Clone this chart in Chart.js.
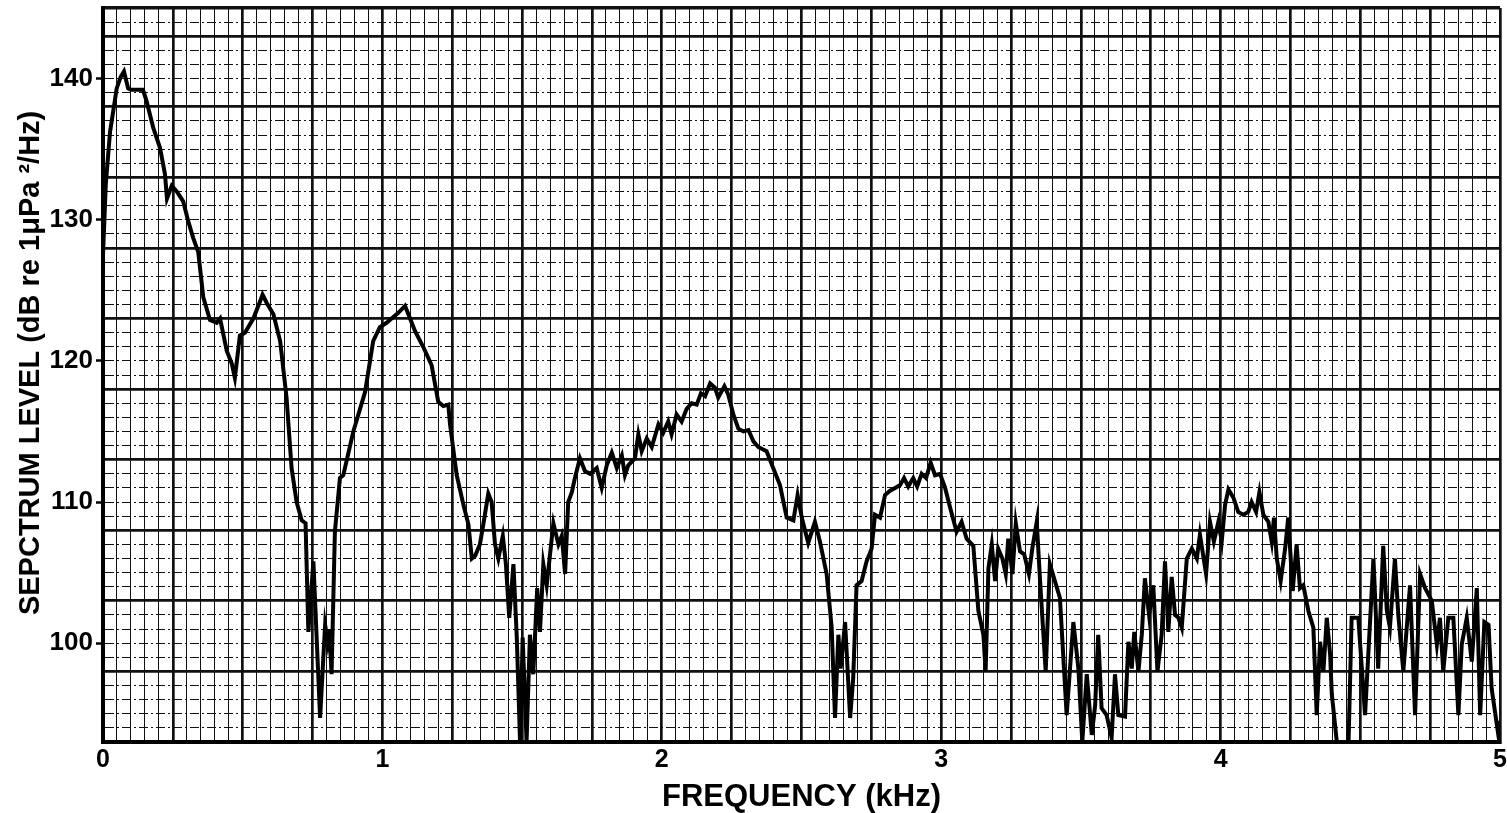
<!DOCTYPE html>
<html>
<head>
<meta charset="utf-8">
<script src="https://cdn.jsdelivr.net/npm/chart.js@4.4.1/dist/chart.umd.min.js"></script>
<style>
  html, body { margin: 0; padding: 0; background: #fff; }
</style>
</head>
<body>
<canvas id="spectrum" width="1507" height="813"></canvas>
<script>
// frequency (kHz) and spectrum level (dB re 1 uPa^2/Hz)
const freqKHz = [
  0.000, 0.010, 0.025, 0.049, 0.063, 0.075, 0.090, 0.100, 0.143, 0.156, 0.180, 0.204, 0.222, 0.229, 0.246, 0.264, 0.287, 0.305, 0.323, 0.341, 0.359,
  0.383, 0.407, 0.419, 0.443, 0.461, 0.472, 0.490, 0.508, 0.538, 0.562, 0.571, 0.586, 0.610, 0.634, 0.657, 0.675,
  0.693, 0.711, 0.725, 0.735, 0.753, 0.777, 0.795, 0.804, 0.810, 0.818, 0.830, 0.848, 0.860, 0.896, 0.938, 0.967, 0.991, 1.015, 1.033, 1.057, 1.081, 1.099, 1.117, 1.146, 1.176, 1.200, 1.218, 1.236, 1.242,
  1.266, 1.290, 1.308, 1.320, 1.332, 1.349, 1.361, 1.379, 1.391, 1.403, 1.415, 1.431, 1.442, 1.454, 1.469, 1.481, 1.493, 1.502, 1.516, 1.528, 1.540, 1.554, 1.564, 1.576, 1.588, 1.612, 1.630, 1.642, 1.654, 1.665, 1.678, 1.689, 1.707, 1.725, 1.743, 1.767, 1.785, 1.803, 1.821, 1.839, 1.857, 1.868,
  1.880, 1.904, 1.916, 1.928, 1.946, 1.964, 1.988, 2.005, 2.023, 2.035, 2.053, 2.071, 2.089, 2.107, 2.125, 2.140, 2.155, 2.173, 2.190, 2.202, 2.224, 2.238, 2.256, 2.274, 2.292, 2.310, 2.328, 2.345, 2.375, 2.399, 2.423, 2.447, 2.471, 2.486, 2.501,
  2.524, 2.548, 2.566, 2.590, 2.608, 2.620, 2.632, 2.640, 2.656, 2.674, 2.685, 2.697, 2.715, 2.733, 2.751, 2.763, 2.781, 2.799, 2.817, 2.835, 2.853, 2.867, 2.882, 2.900, 2.914, 2.930, 2.946, 2.962, 2.978, 2.996, 3.014, 3.032, 3.055, 3.073, 3.091, 3.115, 3.133, 3.151, 3.159,
  3.169, 3.181, 3.193, 3.204, 3.219, 3.231, 3.240, 3.255, 3.267, 3.282, 3.297, 3.314, 3.326, 3.342, 3.354, 3.374, 3.389, 3.407, 3.425, 3.449, 3.473, 3.491, 3.505, 3.521, 3.539, 3.551, 3.562, 3.574, 3.592, 3.610, 3.622, 3.634, 3.658, 3.670, 3.682, 3.691, 3.706, 3.718, 3.729, 3.744, 3.759,
  3.774, 3.789, 3.801, 3.813, 3.825, 3.837, 3.849, 3.861, 3.879, 3.897, 3.915, 3.926, 3.948, 3.962, 3.976, 3.992, 4.004, 4.016, 4.028, 4.046, 4.063, 4.081, 4.099, 4.111, 4.127, 4.139, 4.153, 4.171, 4.183, 4.191, 4.201, 4.215, 4.231, 4.242, 4.258, 4.272, 4.284, 4.296, 4.314, 4.332, 4.344, 4.356, 4.368, 4.380, 4.392,
  4.398, 4.416, 4.458, 4.469, 4.493, 4.517, 4.547, 4.564, 4.582, 4.595, 4.606, 4.624, 4.636, 4.654, 4.678, 4.696, 4.714, 4.732, 4.756, 4.774, 4.785, 4.797, 4.815, 4.833, 4.851, 4.863, 4.881, 4.899, 4.917, 4.929, 4.944, 4.959, 4.970, 4.994, 5.000
];
const levelDB = [
  127.5, 132.5, 136.2, 139.3, 140.1, 140.5, 139.3, 139.2, 139.2, 138.4, 136.5, 135.1, 133.2, 131.5, 132.4, 132.0, 131.3, 129.9, 128.7, 127.7, 124.5,
  122.9, 122.7, 123.0, 120.7, 119.8, 118.8, 121.8, 122.0, 123.0, 124.2, 124.7, 124.1, 123.3, 121.4, 117.4, 112.4,
  110.0, 108.7, 108.5, 100.8, 105.8, 94.7, 101.3, 100.1, 101.0, 97.8, 107.9, 111.7, 111.9, 115.0, 117.8, 121.4, 122.4, 122.7, 123.0, 123.4, 123.9, 123.0, 122.1, 121.0, 119.7, 117.1, 116.8, 116.9, 115.5,
  111.9, 109.8, 108.4, 106.0, 106.2, 107.0, 108.4, 110.6, 110.0, 107.0, 106.0, 107.6, 105.6, 101.8, 105.6, 100.4, 92.8, 100.4, 93.0, 100.6, 97.8, 103.9, 100.8, 105.6, 104.1, 108.5, 107.0, 107.6, 104.9, 110.0, 110.7, 111.7, 113.1, 112.2, 112.0, 112.4, 111.0, 112.6, 113.5, 112.4, 113.3, 111.9,
  112.6, 113.1, 114.8, 113.6, 114.5, 113.9, 115.5, 114.9, 115.7, 114.8, 116.2, 115.7, 116.6, 117.0, 116.9, 117.7, 117.5, 118.4, 118.1, 117.4, 118.2, 117.6, 116.2, 115.2, 115.0, 115.1, 114.3, 113.9, 113.6, 112.4, 111.2, 108.9, 108.7, 110.5, 108.9,
  107.1, 108.6, 107.2, 104.9, 101.1, 94.7, 100.6, 98.2, 101.5, 94.7, 97.5, 104.1, 104.4, 105.8, 106.7, 109.1, 108.9, 110.5, 110.8, 111.0, 111.2, 111.7, 111.1, 111.7, 111.1, 112.0, 111.7, 112.8, 111.9, 112.0, 111.0, 109.6, 107.9, 108.6, 107.4, 106.9, 102.3, 100.6, 98.0,
  105.3, 107.0, 104.4, 106.7, 106.0, 104.9, 107.4, 104.9, 108.5, 106.5, 106.3, 104.9, 106.7, 108.6, 104.4, 98.0, 105.6, 104.4, 103.2, 94.9, 101.5, 98.2, 93.0, 97.8, 93.5, 95.6, 100.6, 95.4, 94.9, 93.3, 97.8, 94.9, 94.8, 100.1, 98.2, 100.8, 98.0, 100.6, 104.6, 102.0, 104.1,
  98.0, 100.6, 105.8, 100.8, 104.7, 102.0, 101.8, 101.1, 106.0, 106.7, 106.0, 107.7, 104.9, 108.6, 107.2, 108.6, 107.2, 109.8, 110.9, 110.3, 109.3, 109.1, 109.3, 110.0, 109.3, 110.7, 109.1, 108.6, 107.2, 108.9, 106.0, 104.4, 106.7, 108.9, 103.7, 107.0, 103.9, 104.1, 102.3, 101.1, 94.9, 100.1, 98.0, 101.8, 99.2,
  96.4, 93.0, 93.0, 101.8, 101.8, 94.9, 106.0, 98.2, 106.9, 102.3, 101.1, 106.0, 102.0, 98.0, 104.1, 94.9, 104.9, 103.9, 103.0, 99.9, 101.8, 98.0, 101.8, 101.8, 94.9, 99.9, 101.8, 98.7, 103.9, 94.9, 101.5, 101.3, 96.8, 93.5, 94.5
];

const xTickLabels = [0, 1, 2, 3, 4, 5];
const yTickLabels = [100, 110, 120, 130, 140];
const yMin = 93;
const yMax = 145;

// helper: is v a multiple of step counted from base
const onStep = (v, step, base) => {
  const k = (v - base) / step;
  return Math.abs(k - Math.round(k)) < 1e-6;
};

const boldFont = (size, lineHeight) => ({ family: 'Liberation Sans, Arial, sans-serif', size: size, weight: 'bold', lineHeight: lineHeight || 1.2 });

const ctx = document.getElementById('spectrum').getContext('2d');

new Chart(ctx, {
  type: 'line',
  data: {
    datasets: [{
      label: 'Spectrum level',
      data: freqKHz.map((f, i) => ({ x: f, y: levelDB[i] })),
      borderColor: '#000',
      borderWidth: 4,
      pointRadius: 0,
      tension: 0,
      fill: false,
    }],
  },
  options: {
    responsive: false,
    devicePixelRatio: 1,
    animation: false,
    layout: { padding: { top: 8, right: 7, left: 0, bottom: 0 } },
    plugins: {
      legend: { display: false },
      tooltip: { enabled: false },
    },
    scales: {
      x: {
        type: 'linear',
        min: 0,
        max: 5,
        afterBuildTicks: scale => {
          scale.ticks = Array.from({ length: 101 }, (_, i) => ({ value: i / 20 }));
        },
        afterFit: scale => {
          scale.height = 71;
          scale.paddingLeft = 0;
          scale.paddingRight = 0;
        },
        ticks: {
          autoSkip: false,
          maxRotation: 0,
          padding: 3,
          color: '#000',
          font: boldFont(25),
          callback: v => {
            const r = Math.round(v);
            return onStep(v, 1, 0) && xTickLabels.includes(r) ? String(r) : '';
          },
        },
        grid: {
          drawTicks: false,
          color: '#111',
          lineWidth: c => (c.tick && onStep(c.tick.value, 0.25, 0) ? 2.7 : 1),
        },
        border: { display: true, width: 4, color: '#000' },
        title: {
          display: true,
          text: 'FREQUENCY (kHz)',
          color: '#000',
          font: boldFont(31, 1),
          padding: { top: 0, bottom: 0 },
        },
      },
      y: {
        type: 'linear',
        min: yMin,
        max: yMax,
        afterBuildTicks: scale => {
          scale.ticks = Array.from({ length: yMax - yMin + 1 }, (_, i) => ({ value: yMin + i }));
        },
        afterFit: scale => {
          scale.width = 103;
          scale.paddingTop = 0;
          scale.paddingBottom = 0;
        },
        ticks: {
          autoSkip: false,
          padding: 3,
          color: '#000',
          font: boldFont(26),
          callback: v => (yTickLabels.includes(v) ? String(v) : ''),
        },
        grid: {
          drawTicks: true,
          tickLength: 7,
          tickWidth: 2.5,
          tickColor: c => (c.tick && yTickLabels.includes(c.tick.value) ? '#000' : 'rgba(0,0,0,0)'),
          color: '#111',
          // major every 5 dB from the bottom edge, plus the top frame line
          lineWidth: c => {
            if (!c.tick) return 1;
            if (c.tick.value === yMax) return 3.5;
            return onStep(c.tick.value, 5, yMin) ? 2.7 : 1;
          },
        },
        border: {
          display: true,
          width: 4,
          color: '#000',
          dash: c => (c.tick && c.tick.value !== yMax && !onStep(c.tick.value, 5, yMin) ? [9, 3, 2, 3] : []),
        },
        title: {
          display: true,
          // leading spaces nudge the text up, as set on the original sheet
          text: '   SEPCTRUM LEVEL (dB re 1\u03bcPa \u00b2/Hz)',
          color: '#000',
          font: boldFont(29, 1),
          padding: { top: 16, bottom: 0 },
        },
      },
    },
  },
});
</script>
</body>
</html>
